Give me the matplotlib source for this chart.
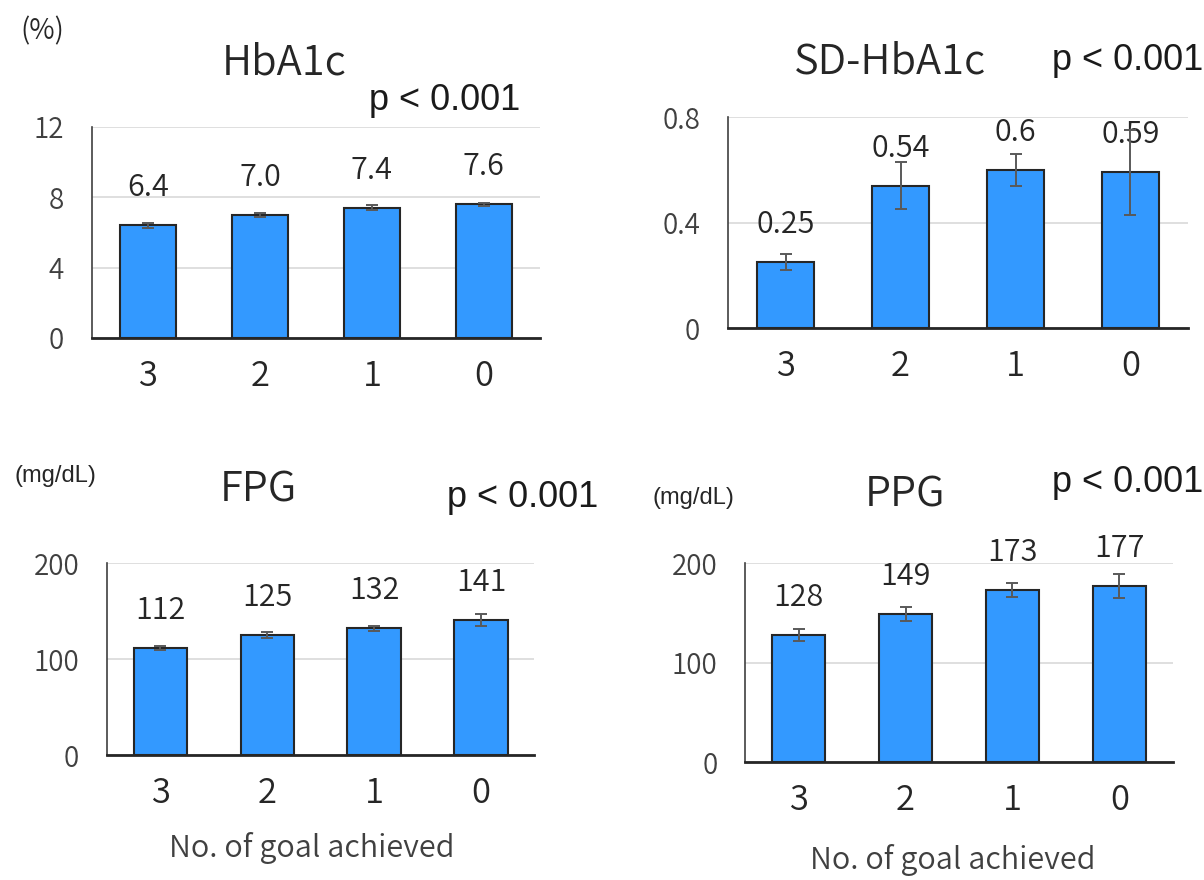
import numpy as np
import matplotlib.pyplot as plt

plt.rcParams['font.family'] = ['Noto Sans CJK JP', 'DejaVu Sans']
plt.rcParams['font.weight'] = 350

goals = ["3", "2", "1", "0"]

hba1c = [6.4, 7.0, 7.4, 7.6]
hba1c_err = [0.15, 0.12, 0.15, 0.08]
hba1c_lbl = ["6.4", "7.0", "7.4", "7.6"]

sd_hba1c = [0.25, 0.54, 0.60, 0.59]
sd_hba1c_err = [0.03, 0.09, 0.06, 0.16]
sd_hba1c_lbl = ["0.25", "0.54", "0.6", "0.59"]

fpg = [112, 125, 132, 141]
fpg_err = [2, 3, 3, 6]
fpg_lbl = ["112", "125", "132", "141"]

ppg = [128, 149, 173, 177]
ppg_err = [6, 7, 7, 12]
ppg_lbl = ["128", "149", "173", "177"]

W, H = 1204, 880
fig = plt.figure(figsize=(W / 100, H / 100), dpi=100)


def px(x, y):
    return x / W, 1 - y / H


def panel(rect, vals, errs, labels, ymax, yticks, yticklabels):
    ax = fig.add_axes(rect)
    x = np.arange(len(goals))
    ax.bar(x, vals, width=0.5, color="#3399ff", edgecolor="#262626",
           linewidth=1.5, zorder=3)
    ax.errorbar(x, vals, yerr=errs, fmt="none", ecolor="#595959",
                elinewidth=1.4, capsize=4, capthick=1.4, zorder=4)
    for xi, v, t in zip(x, vals, labels):
        ax.annotate(t, (xi, v), xytext=(0, 27), textcoords="offset points",
                    ha="center", va="center", fontsize=22, color="#262626")
    ax.set_xlim(-0.5, 3.5)
    ax.set_ylim(0, ymax)
    ax.set_xticks(x)
    ax.set_xticklabels(goals, fontsize=25, color="#262626")
    ax.set_yticks(yticks)
    ax.set_yticklabels(yticklabels, fontsize=20, color="#404040")
    ax.tick_params(axis="x", length=0, pad=15)
    ax.tick_params(axis="y", length=0, pad=20)
    ax.yaxis.grid(True, color="#d9d9d9", linewidth=1.2, zorder=0)
    ax.set_axisbelow(True)
    for s in ["top", "right"]:
        ax.spines[s].set_visible(False)
    ax.spines["left"].set_color("#404040")
    ax.spines["left"].set_linewidth(1.2)
    ax.spines["bottom"].set_color("#262626")
    ax.spines["bottom"].set_linewidth(2)
    return ax


panel([0.0764, 0.616, 0.372, 0.240], hba1c, hba1c_err, hba1c_lbl,
      12, [0, 4, 8, 12], ["0", "4", "8", "12"])
panel([0.6047, 0.627, 0.382, 0.240], sd_hba1c, sd_hba1c_err, sd_hba1c_lbl,
      0.8, [0, 0.4, 0.8], ["0", "0.4", "0.8"])
panel([0.0889, 0.142, 0.355, 0.218], fpg, fpg_err, fpg_lbl,
      200, [0, 100, 200], ["0", "100", "200"])
panel([0.619, 0.134, 0.355, 0.226], ppg, ppg_err, ppg_lbl,
      200, [0, 100, 200], ["0", "100", "200"])

# titles
for t, (xx, yy) in [("HbA1c", (284, 63)), ("SD-HbA1c", (890, 62)),
                    ("FPG", (258, 490)), ("PPG", (905, 495))]:
    fig.text(*px(xx, yy), t, ha="center", va="center", fontsize=30,
             color="#262626")

# p values
for xx, yy in [(445, 100), (1128, 60), (523, 497), (1128, 482)]:
    fig.text(*px(xx, yy), "p < 0.001", ha="center", va="center",
             fontsize=26, family="Liberation Sans", color="#1a1a1a")

# units
fig.text(*px(42, 31), "(%)", ha="center", va="center", fontsize=20,
         color="#262626")
for xx, yy in [(55, 476), (693, 498)]:
    fig.text(*px(xx, yy), "(mg/dL)", ha="center", va="center", fontsize=17,
             family="Liberation Sans", color="#262626")

# x labels
for xx, yy in [(312, 848), (953, 860)]:
    fig.text(*px(xx, yy), "No. of goal achieved", ha="center", va="center",
             fontsize=22, color="#404040")

plt.savefig("out.png", dpi=100)
